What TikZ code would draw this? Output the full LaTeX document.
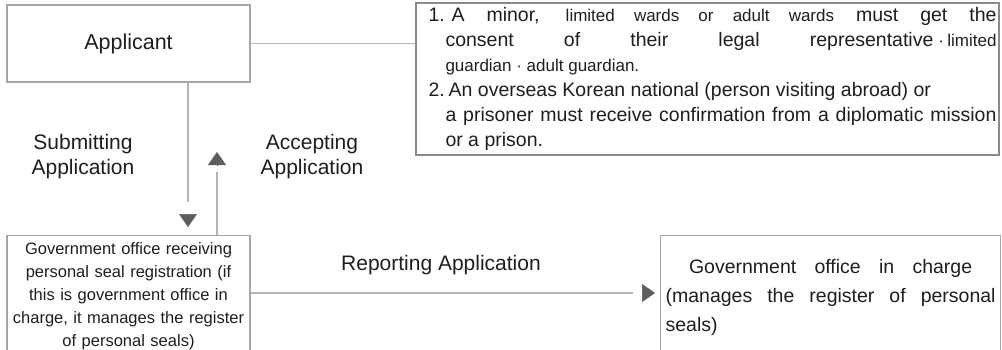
\documentclass[tikz,border=0pt]{standalone}
\usepackage{fontspec}
\setmainfont{Liberation Sans}
\usetikzlibrary{positioning, arrows.meta, calc}
\definecolor{linegray}{HTML}{B5B5B5}
\definecolor{boxgray}{HTML}{A6A6A6}
\definecolor{notegray}{HTML}{8A8A8A}
\definecolor{tipgray}{HTML}{5E5E5E}
\definecolor{ink}{HTML}{1E1E1E}

\begin{document}
\begin{tikzpicture}[x=1pt, y=-1pt,
    box/.style={draw=boxgray, line width=1.2pt, text=ink},
    lbl/.style={align=center, text=ink, font=\fontsize{21}{25}\selectfont},
    conn/.style={draw=linegray, line width=1.8pt},
    headtip/.style={draw=tipgray, line width=0.5pt, -{Triangle[length=13pt, width=18pt, color=tipgray]}},
  ]
  \useasboundingbox (0,0) rectangle (1002,349);

  % boxes
  \node[box, minimum width=243pt, minimum height=77pt,
        font=\fontsize{21.5}{25}\selectfont] (applicant) at (128.5,43.5) {Applicant};
  \node[draw=notegray, line width=2pt, text=ink, text width=579pt,
        inner xsep=2pt, inner ysep=4pt, align=justify,
        font=\fontsize{19.5}{25}\selectfont] (note) at (707,79) {%
    \parindent=0pt\leftskip=11pt\tolerance=10000\hbadness=10000
    \hangindent=17pt\hangafter=1
    1.\hspace{0.35em}A minor, {\fontsize{17}{25}\selectfont limited wards or adult wards} must get the\linebreak
    consent of their legal representative\hspace{0.25em}{\fontsize{17}{25}\selectfont·\hspace{0.2em}limited\linebreak
    guardian · adult guardian.}\newline
    \hspace*{-17pt}2.\hspace{0.2em}An overseas Korean national (person visiting abroad) or\newline
    a prisoner must receive confirmation from a diplomatic mission\linebreak
    or a prison.\par};
  \node[box, anchor=north, text width=239pt, inner xsep=2pt, inner ysep=7pt,
        align=center, font=\fontsize{16.5}{23}\selectfont] (receiving) at (128.5,235)
    {\hyphenpenalty=10000 Government office receiving\\ personal seal registration (if\\ this is government office in\\
     charge, it manages the register\\ of personal seals)};
  \node[box, anchor=north west, text width=330pt, inner xsep=5pt, inner ysep=24pt,
        align=justify, font=\fontsize{19.5}{29}\selectfont] (office) at (660,235) {%
    \tolerance=10000\hbadness=10000
    \hspace*{1.2em}Government office in charge\hspace*{1.2em}\linebreak
    (manages the register of personal\linebreak seals)};

  % labels
  \node[lbl] (submit) at (83,157) {Submitting\\Application};
  \node[lbl] (accept) at (312,157) {Accepting\\Application};
  \node[lbl] (report) at (441,265) {Reporting Application};

  % connectors (heads stand apart from their lines)
  \coordinate (acctip) at (217,152);
  \draw[conn] (applicant.east) -- (applicant.east -| note.west);
  \draw[conn, shorten >=33pt] ([xshift=59.5pt]applicant.south) -- ([xshift=59.5pt]receiving.north);
  \draw[headtip, shorten >=8pt] ($([xshift=59.5pt]receiving.north)!21pt!([xshift=59.5pt]applicant.south)$) -- ([xshift=59.5pt]receiving.north);
  \draw[conn, shorten >=20pt] ([xshift=88.5pt]receiving.north) -- (acctip);
  \draw[headtip] ($(acctip)!13pt!([xshift=88.5pt]receiving.north)$) -- (acctip);
  \draw[conn, shorten >=27pt] ([yshift=-58pt]receiving.north east) -- ([yshift=-58pt]office.north west);
  \draw[headtip, shorten >=5pt] ($([yshift=-58pt]office.north west)!18pt!([yshift=-58pt]receiving.north east)$) -- ([yshift=-58pt]office.north west);
\end{tikzpicture}
\end{document}
